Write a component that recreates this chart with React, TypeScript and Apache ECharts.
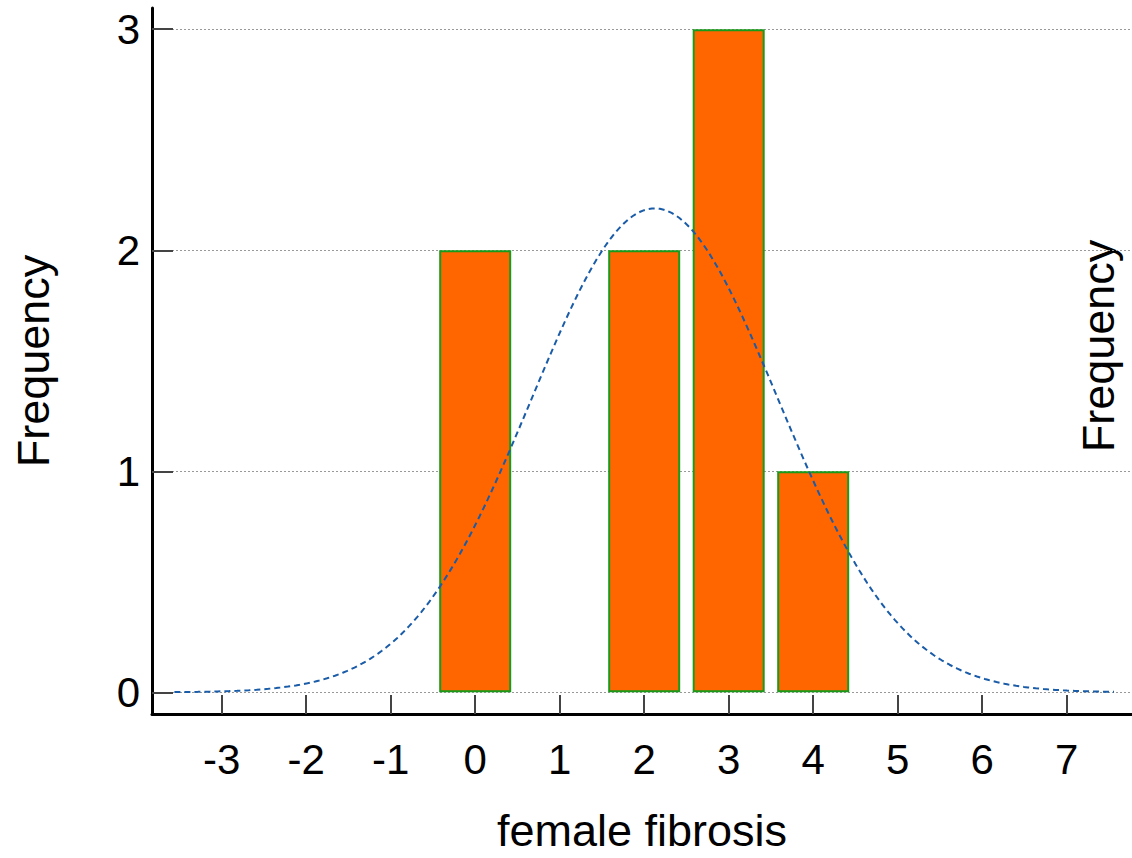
import React, { useEffect, useRef } from "react";
import * as echarts from "echarts";

// Histogram bins (centres) and their frequencies
const binCenters = [0, 2, 3, 4];
const frequencies = [2, 2, 3, 1];
const binWidth = 1;

// Axis tick labels
const xTicks = [-3, -2, -1, 0, 1, 2, 3, 4, 5, 6, 7];
const yTicks = [0, 1, 2, 3];

// Range over which the fitted normal curve is drawn
const curveStart = -3.56;
const curveEnd = 7.56;

function normalFit(): number[][] {
  const n = frequencies.reduce((a, b) => a + b, 0);
  let sum = 0;
  binCenters.forEach((c, i) => (sum += c * frequencies[i]));
  const mean = sum / n;
  let ss = 0;
  binCenters.forEach((c, i) => (ss += frequencies[i] * (c - mean) ** 2));
  const sd = Math.sqrt(ss / (n - 1));
  const pts: number[][] = [];
  const steps = 240;
  for (let k = 0; k <= steps; k++) {
    const x = curveStart + ((curveEnd - curveStart) * k) / steps;
    const y =
      (n * binWidth * Math.exp(-((x - mean) ** 2) / (2 * sd * sd))) /
      (sd * Math.sqrt(2 * Math.PI));
    pts.push([x, y]);
  }
  return pts;
}

export default function App() {
  const ref = useRef<HTMLDivElement>(null);
  useEffect(() => {
    if (!ref.current) return;
    const chart = echarts.init(ref.current, null, { renderer: "svg" });
    const font = "Arial, 'Liberation Sans', Helvetica, sans-serif";
    chart.setOption({
      animation: false,
      backgroundColor: "#ffffff",
      textStyle: { fontFamily: font },
      grid: { left: 152, top: 8, right: 0, bottom: 142, containLabel: false },
      xAxis: {
        type: "value",
        min: -3.825,
        max: 7.773,
        name: "female fibrosis",
        nameLocation: "middle",
        nameGap: 94,
        nameTextStyle: { fontSize: 45, color: "#000", fontFamily: font },
        axisLine: { onZero: false, lineStyle: { color: "#000", width: 3 } },
        axisTick: {
          inside: true,
          length: 19,
          customValues: xTicks,
          lineStyle: { color: "#444", width: 2 },
        },
        axisLabel: {
          customValues: xTicks,
          fontSize: 42,
          color: "#000",
          margin: 24,
          fontFamily: font,
        },
        splitLine: { show: false },
      },
      yAxis: {
        type: "value",
        min: -0.098,
        max: 3.096,
        name: "Frequency",
        nameLocation: "middle",
        nameGap: 96,
        nameRotate: 90,
        nameTextStyle: { fontSize: 45, color: "#000", fontFamily: font },
        axisLine: { onZero: false, lineStyle: { color: "#000", width: 3 } },
        axisTick: {
          inside: true,
          length: 21,
          customValues: yTicks,
          lineStyle: { color: "#444", width: 2 },
        },
        axisLabel: {
          customValues: yTicks,
          fontSize: 42,
          color: "#000",
          margin: 12,
          fontFamily: font,
        },
        splitLine: {
          show: true,
          lineStyle: { color: "#999", type: [2, 2], width: 1 },
        },
      },
      graphic: [
        {
          type: "text",
          x: 1098,
          y: 346,
          rotation: Math.PI / 2,
          style: {
            text: "Frequency",
            fontSize: 45,
            fill: "#000",
            fontFamily: font,
            align: "center",
            verticalAlign: "middle",
          },
        },
      ],
      series: [
        {
          type: "bar",
          data: binCenters.map((c, i) => [c, frequencies[i]]),
          barWidth: 72,
          itemStyle: { color: "#FF6600", borderColor: "#1a9a1a", borderWidth: 2 },
          z: 2,
        },
        {
          type: "line",
          data: normalFit(),
          showSymbol: false,
          smooth: false,
          lineStyle: { color: "#1a5ca8", width: 2, type: [6, 4] },
          z: 3,
        },
      ],
    });
    return () => chart.dispose();
  }, []);
  return (
    <div
      ref={ref}
      style={{ position: "absolute", left: 0, top: 0, width: 1132, height: 858 }}
    />
  );
}
